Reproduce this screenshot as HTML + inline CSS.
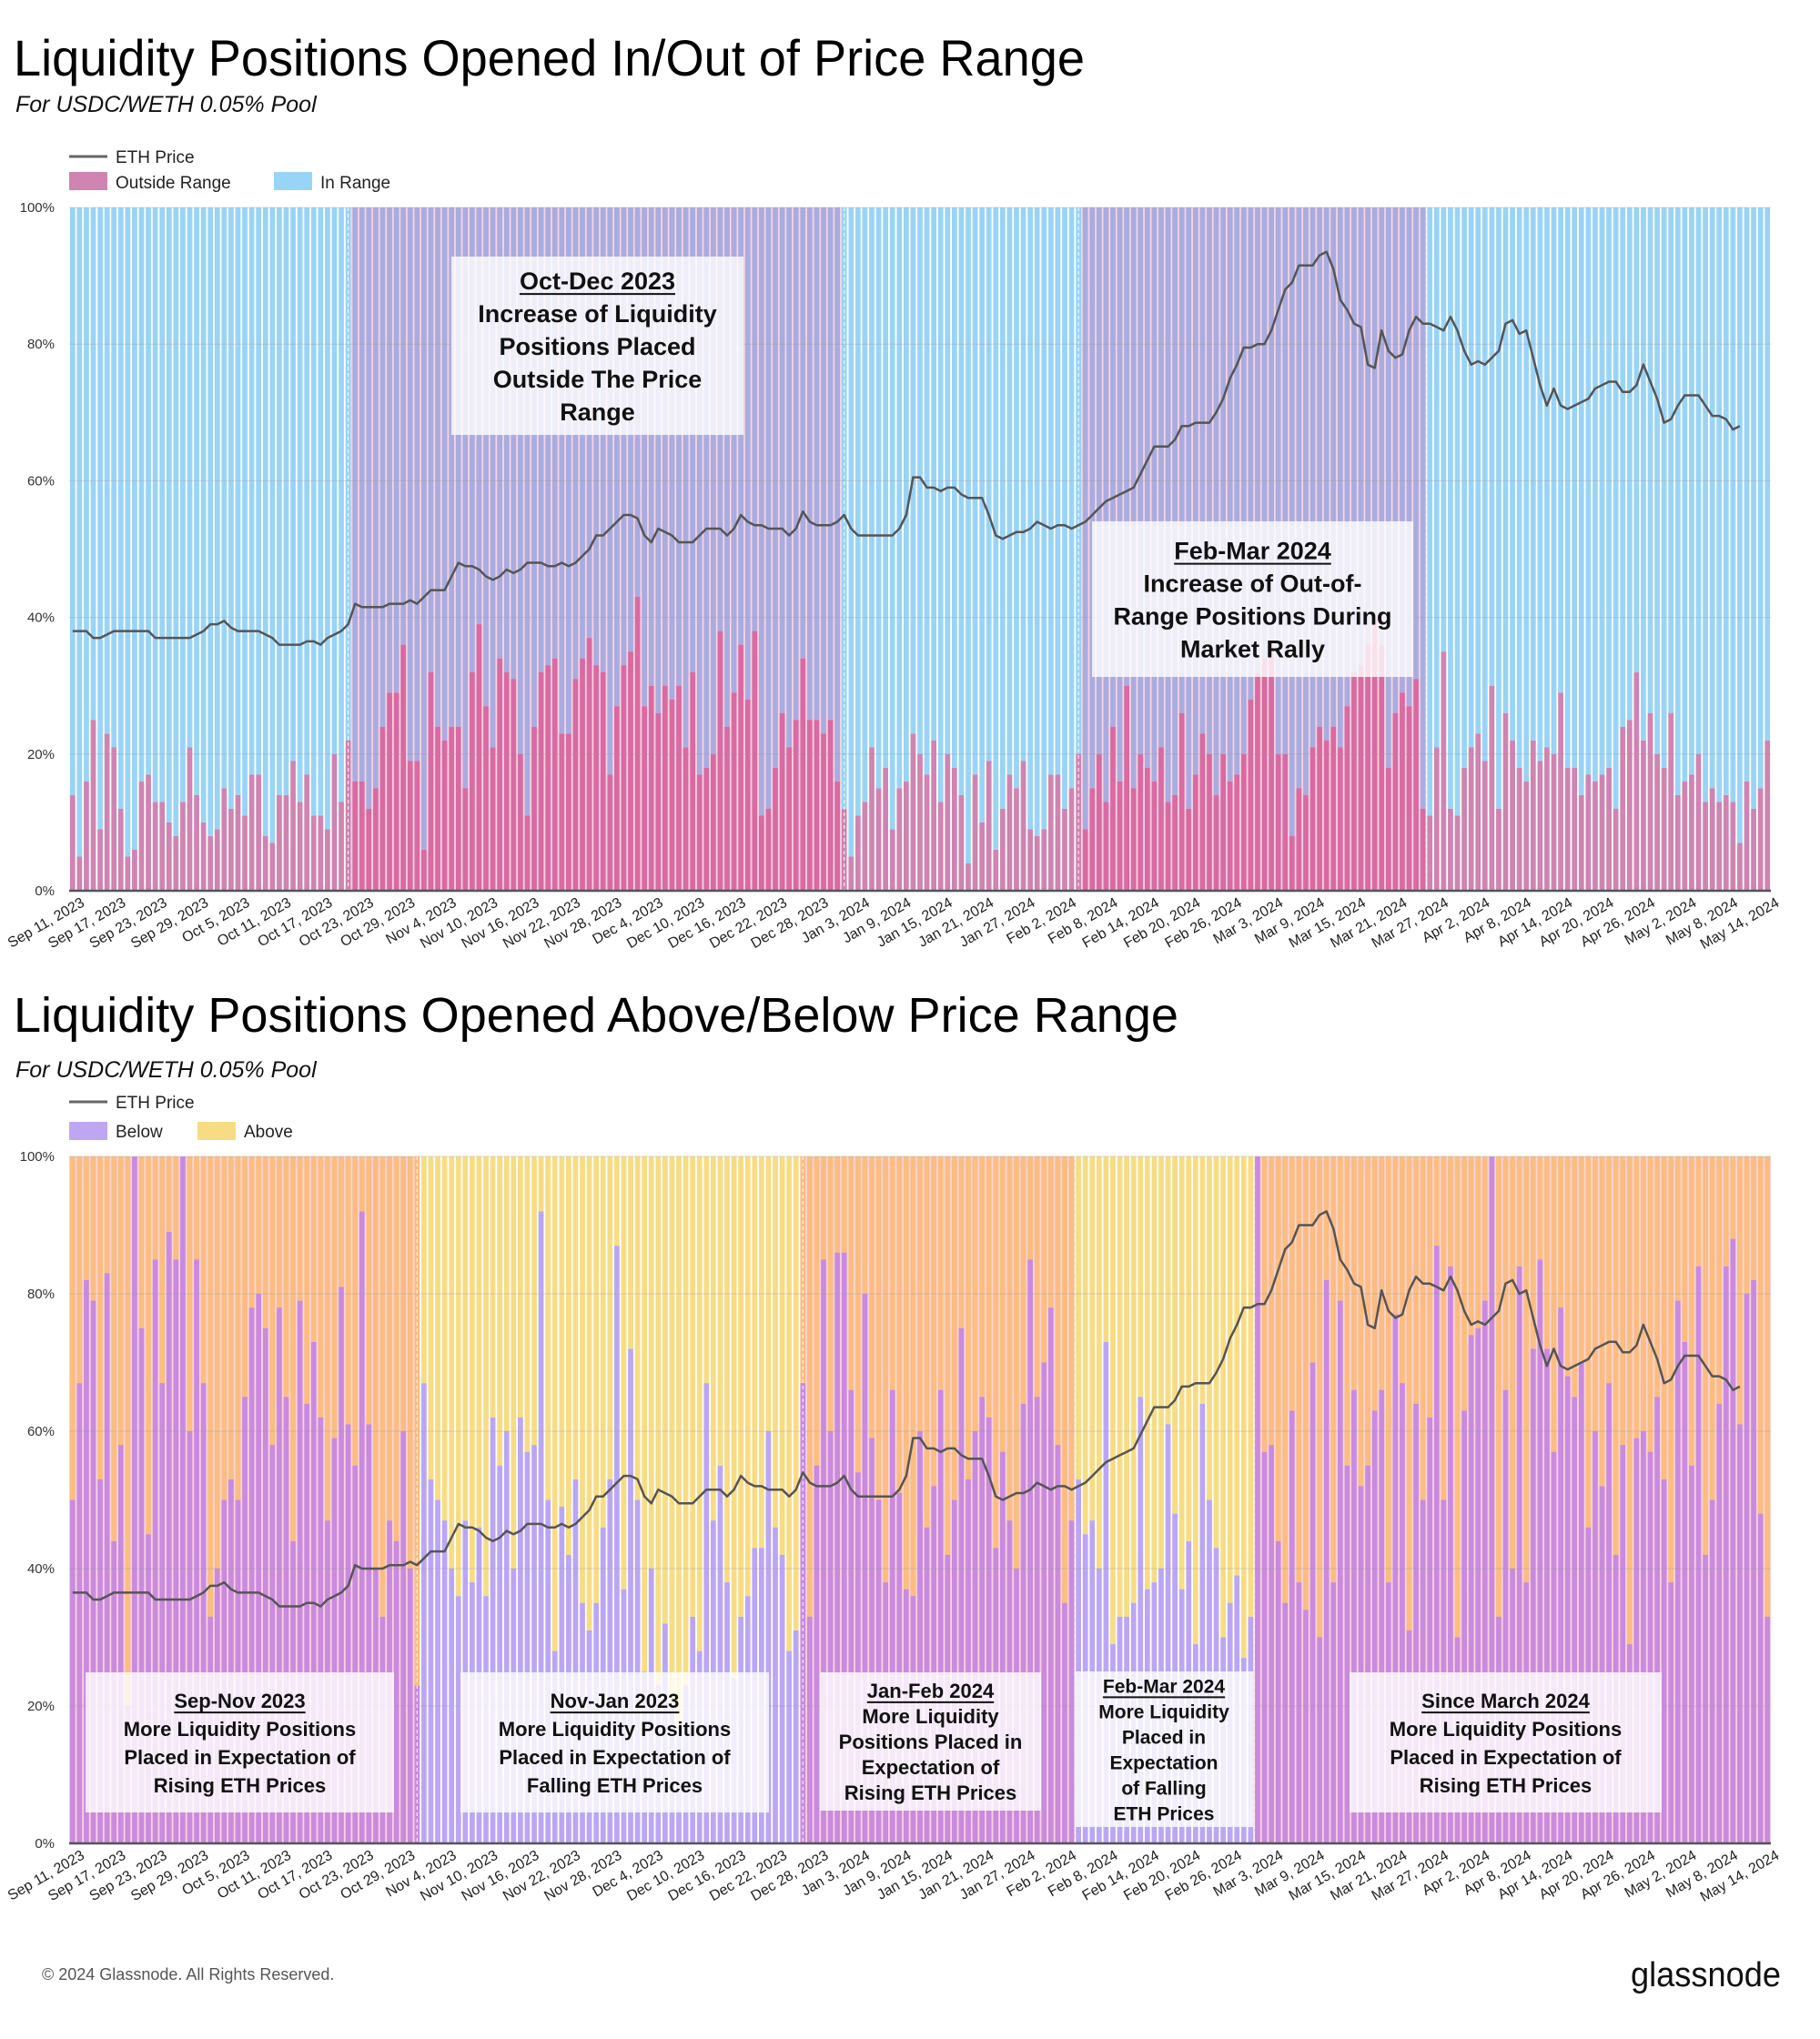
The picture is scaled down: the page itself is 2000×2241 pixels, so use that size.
<!DOCTYPE html>
<html><head><meta charset="utf-8"><style>
html,body{margin:0;padding:0;background:#fff;}
svg{display:block;font-family:"Liberation Sans",sans-serif;}
</style></head><body>
<svg id="page" width="2000" height="2241" viewBox="0 0 2000 2241" xmlns="http://www.w3.org/2000/svg">
<rect width="2000" height="2241" fill="#fff"/>
<g>
<text x="15" y="83" font-size="56" textLength="1177" lengthAdjust="spacingAndGlyphs" fill="#000">Liquidity Positions Opened In/Out of Price Range</text>
<text x="17" y="123" font-size="25" font-style="italic" fill="#111">For USDC/WETH 0.05% Pool</text>
<line x1="76" y1="172" x2="118" y2="172" stroke="#666" stroke-width="3"/>
<text x="127" y="179" font-size="19" fill="#222">ETH Price</text>
<rect x="76" y="189" width="42" height="20" fill="#cf84b1"/>
<text x="127" y="207" font-size="19" fill="#222">Outside Range</text>
<rect x="301" y="189" width="42" height="20" fill="#99d4f7"/>
<text x="352" y="207" font-size="19" fill="#222">In Range</text>
</g>
<g id="c1"></g>
<g>
<text x="15" y="1134" font-size="54" textLength="1280" lengthAdjust="spacingAndGlyphs" fill="#000">Liquidity Positions Opened Above/Below Price Range</text>
<text x="17" y="1184" font-size="25" font-style="italic" fill="#111">For USDC/WETH 0.05% Pool</text>
<line x1="76" y1="1211" x2="118" y2="1211" stroke="#666" stroke-width="3"/>
<text x="127" y="1218" font-size="19" fill="#222">ETH Price</text>
<rect x="76" y="1233" width="42" height="20" fill="#bfa6f3"/>
<text x="127" y="1250" font-size="19" fill="#222">Below</text>
<rect x="217" y="1233" width="42" height="20" fill="#f8dc84"/>
<text x="268" y="1250" font-size="19" fill="#222">Above</text>
</g>
<g id="c2"></g>
<g id="ann"></g>
<text x="46" y="2176" font-size="18" fill="#555">© 2024 Glassnode. All Rights Reserved.</text>
<text x="1957" y="2183" font-size="38" text-anchor="end" fill="#111" textLength="165" lengthAdjust="spacingAndGlyphs">glassnode</text>
</svg>
<script>
const startDate = [2023, 8, 11];
const outsideRange = [14,5,16,25,9,23,21,12,5,6,16,17,13,13,10,8,13,21,14,10,8,9,15,12,14,11,17,17,8,7,14,14,19,13,17,11,11,9,20,13,
22,16,16,12,15,24,29,29,36,19,19,
6,32,24,22,24,24,15,32,39,27,21,34,32,31,20,11,24,32,33,34,23,23,31,34,37,33,32,17,27,33,
35,43,27,30,26,30,28,30,21,32,17,18,20,38,24,29,36,28,38,11,12,18,26,21,25,34,25,25,23,25,16,
12,5,11,13,21,15,18,9,15,16,23,20,17,22,13,20,18,14,4,17,10,19,6,12,17,15,19,9,8,9,17,
17,12,15,20,9,15,20,13,24,16,30,15,20,18,16,21,13,14,26,12,17,23,20,14,20,16,17,20,28,
32,34,35,20,20,8,15,14,21,24,22,24,21,27,32,33,36,40,36,18,26,29,27,31,12,11,21,35,12,11,18,
21,23,19,30,12,26,22,18,16,22,19,21,20,29,18,18,14,17,16,17,18,12,24,25,32,22,26,20,18,26,
14,16,17,20,13,15,13,14,13,7,16,12,15,22];
const belowRange = [50,67,82,79,53,83,44,58,20,100,75,45,85,67,89,85,100,60,85,67,
33,40,50,53,50,65,78,80,75,58,78,65,44,79,64,73,62,47,59,81,61,55,92,61,40,33,47,44,60,40,23,
67,53,50,47,40,36,47,38,46,36,62,55,60,40,62,57,58,92,50,28,49,42,53,35,31,35,46,53,87,37,
72,50,25,40,23,32,20,17,23,33,28,67,47,55,38,24,33,36,43,43,60,46,42,28,31,67,33,55,85,60,86,
86,66,54,80,59,50,38,66,51,37,36,60,46,52,66,42,50,75,53,60,65,62,43,57,47,40,64,85,65,70,78,
58,35,47,53,45,47,40,73,29,33,33,35,65,37,38,40,61,48,37,44,29,64,50,43,30,35,39,27,33,
100,57,58,44,35,63,38,34,70,30,82,38,79,55,66,52,55,63,66,38,77,67,31,64,50,62,87,50,84,30,63,
74,75,79,100,33,66,40,84,38,72,85,72,57,78,68,65,70,46,60,52,67,42,58,29,59,60,57,65,53,38,
79,73,55,84,42,50,64,84,88,61,80,82,48,33];
const ethPriceScaled = [38,38,38,37,37,37.5,38,38,38,38,38,38,37,37,37,37,37,37,37.5,38,
39,39,39.5,38.5,38,38,38,38,37.5,37,36,36,36,36,36.5,36.5,36,37,37.5,38,39,42,41.5,41.5,41.5,41.5,42,42,42,42.5,42,
43,44,44,44,46,48,47.5,47.5,47,46,45.5,46,47,46.5,47,48,48,48,47.5,47.5,48,47.5,48,49,50,52,52,53,54,55,
55,54.5,52,51,53,52.5,52,51,51,51,52,53,53,53,52,53,55,54,53.5,53.5,53,53,53,52,53,55.5,54,53.5,53.5,53.5,54,
55,53,52,52,52,52,52,52,53,55,60.5,60.5,59,59,58.5,59,59,58,57.5,57.5,57.5,55,52,51.5,52,52.5,52.5,53,54,53.5,53,
53.5,53.5,53,53.5,54,55,56,57,57.5,58,58.5,59,61,63,65,65,65,66,68,68,68.5,68.5,68.5,70,72,75,77,79.5,79.5,
80,80,82,85,88,89,91.5,91.5,91.5,93,93.5,91,86.5,85,83,82.5,77,76.5,82,79,78,78.5,82,84,83,83,82.5,82,84,82,79,
77,77.5,77,78,79,83,83.5,81.5,82,78,74,71,73.5,71,70.5,71,71.5,72,73.5,74,74.5,74.5,73,73,74,77,74.5,72,68.5,69,
71,72.5,72.5,72.5,71,69.5,69.5,69,67.5,68];
const yTicks = [0,20,40,60,80,100];
const months = ["Jan","Feb","Mar","Apr","May","Jun","Jul","Aug","Sep","Oct","Nov","Dec"];
const c1Highlights = [[40.5,112.5],[146.5,197]];
const c2Yellow = [[50.5,106.5],[146,172]];

const NS = "http://www.w3.org/2000/svg";
function mk(tag, attrs, parent){const e=document.createElementNS(NS,tag);for(const k in attrs)e.setAttribute(k,attrs[k]);parent.appendChild(e);return e;}
const inR=(i,rs)=>rs.some(r=>i>r[0]&&i<r[1]);

function drawChart(g, cfg){
  const n = cfg.values.length;
  const x0=76,x1=1946,yT=cfg.yT,yB=cfg.yB;
  const bw=(x1-x0)/n;
  const xS=i=>x0+i*bw;
  const yS=v=>yB-(v/100)*(yB-yT);
  cfg.regions.forEach(r=>{
    const e=mk('rect',{x:xS(r[0]),y:yT,width:(r[1]-r[0])*bw,height:yB-yT,fill:cfg.regionGap},g);
    
    
  });
  for(let i=0;i<n;i++){
    const hl=inR(i+0.5,cfg.regions);
    const v=cfg.values[i];
    const bx=xS(i)+bw*0.12, w=bw*0.76;
    const top=mk('rect',{x:bx,y:yT,width:w,height:yS(v)-yT,fill:hl?cfg.topHL:cfg.top},g);
    
    
    const bot=mk('rect',{x:bx,y:yS(v),width:w,height:yB-yS(v),fill:hl?cfg.botHL:cfg.bot},g);
    
    
  }
  cfg.regions.forEach(r=>{[r[0],r[1]].forEach(b=>{
    const e=mk('line',{x1:xS(b),y1:yT,x2:xS(b),y2:yB,stroke:'#fff',"stroke-width":1.2,"stroke-dasharray":'4 3',opacity:0.8},g);
    
    
  });});
  yTicks.forEach(t=>{
    const gl=mk('line',{x1:x0,y1:yS(t),x2:x1,y2:yS(t),stroke:'#999',"stroke-width":1,opacity:0.35},g);
    
    
    const tl=mk('text',{x:x0-16,y:yS(t)+5,"font-size":15,"text-anchor":"end",fill:'#333'},g);
    tl.textContent=t+'%';
    
    
  });
  const ax=mk('line',{x1:x0,y1:yB,x2:x1,y2:yB,stroke:'#555',"stroke-width":2.5},g);
  
  
  for(let i=0;i<n;i+=6){
    const d=new Date(startDate[0],startDate[1],startDate[2]+i);
    const tx=xS(i+0.5)+14, ty=yB+16;
    const tl=mk('text',{x:tx,y:ty,"font-size":16,"text-anchor":"end",fill:'#222',transform:`rotate(-30 ${tx} ${ty})`},g);
    tl.textContent=months[d.getMonth()]+' '+d.getDate()+', '+d.getFullYear();
    
    
  }
  let p='';
  cfg.price.forEach((v,i)=>{p+=(i?'L':'M')+xS(i+0.5).toFixed(1)+' '+yS(v).toFixed(1);});
  const pl=mk('path',{d:p,fill:'none',stroke:'#555',"stroke-width":2.5,"stroke-linejoin":"round"},g);
  
  
}
drawChart(document.getElementById('c1'),{values:outsideRange,price:ethPriceScaled,yT:228,yB:979,regions:c1Highlights,
  regionGap:'#f6d3e2',top:'#99d4f7',topHL:'#a9acdf',bot:'#cf84b1',botHL:'#d96aa2',topName:'bar-in-range',botName:'bar-outside-range'});
drawChart(document.getElementById('c2'),{values:belowRange,price:ethPriceScaled.map(v=>v-1.5),yT:1271,yB:2026,regions:c2Yellow,
  regionGap:'#ffffff',top:'#fbbd80',topHL:'#f8dc84',bot:'#c98ae0',botHL:'#bba6f5',topName:'bar-above',botName:'bar-below'});
(function(){
  const g=document.getElementById('c2');
  const bg=mk('rect',{x:76,y:1271,width:1870,height:755,fill:'#f9d3d8'},g);
  g.insertBefore(bg,g.firstChild);
  
  
})();

const ann=document.getElementById('ann');
function box(x,y,w,h,lines,fs,lh,name){
  const g=mk('g',{},ann);
  
  
  mk('rect',{x:x,y:y,width:w,height:h,fill:'#fff',opacity:0.8},g);
  const cx=x+w/2;
  const totalH=lines.length*lh;
  let ty=y+(h-totalH)/2+lh*0.78;
  lines.forEach((l,k)=>{
    const t=mk('text',{x:cx,y:ty,"font-size":fs,"font-weight":"bold","text-anchor":"middle",fill:'#111'},g);
    t.textContent=l;
    if(k===0){const wEst=t.getComputedTextLength?t.getComputedTextLength():l.length*fs*0.55;
      mk('line',{x1:cx-wEst/2,y1:ty+5,x2:cx+wEst/2,y2:ty+5,stroke:'#111',"stroke-width":2},g);}
    ty+=lh;
  });
}
box(496,282,321,196,["Oct-Dec 2023","Increase of Liquidity","Positions Placed","Outside The Price","Range"],27,36,'annotation-oct-dec-2023');
box(1200,573,353,171,["Feb-Mar 2024","Increase of Out-of-","Range Positions During","Market Rally"],27,36,'annotation-feb-mar-2024');
box(94,1838,339,154,["Sep-Nov 2023","More Liquidity Positions","Placed in Expectation of","Rising ETH Prices"],22,31,'annotation-sep-nov-2023');
box(506,1838,339,154,["Nov-Jan 2023","More Liquidity Positions","Placed in Expectation of","Falling ETH Prices"],22,31,'annotation-nov-jan-2023');
box(901,1838,243,152,["Jan-Feb 2024","More Liquidity","Positions Placed in","Expectation of","Rising ETH Prices"],22,28,'annotation-jan-feb-2024');
box(1181,1837,196,171,["Feb-Mar 2024","More Liquidity","Placed in","Expectation","of Falling","ETH Prices"],21,28,'annotation-feb-mar-2024-b');
box(1483,1838,343,154,["Since March 2024","More Liquidity Positions","Placed in Expectation of","Rising ETH Prices"],22,31,'annotation-since-march-2024');
</script>
</body></html>
